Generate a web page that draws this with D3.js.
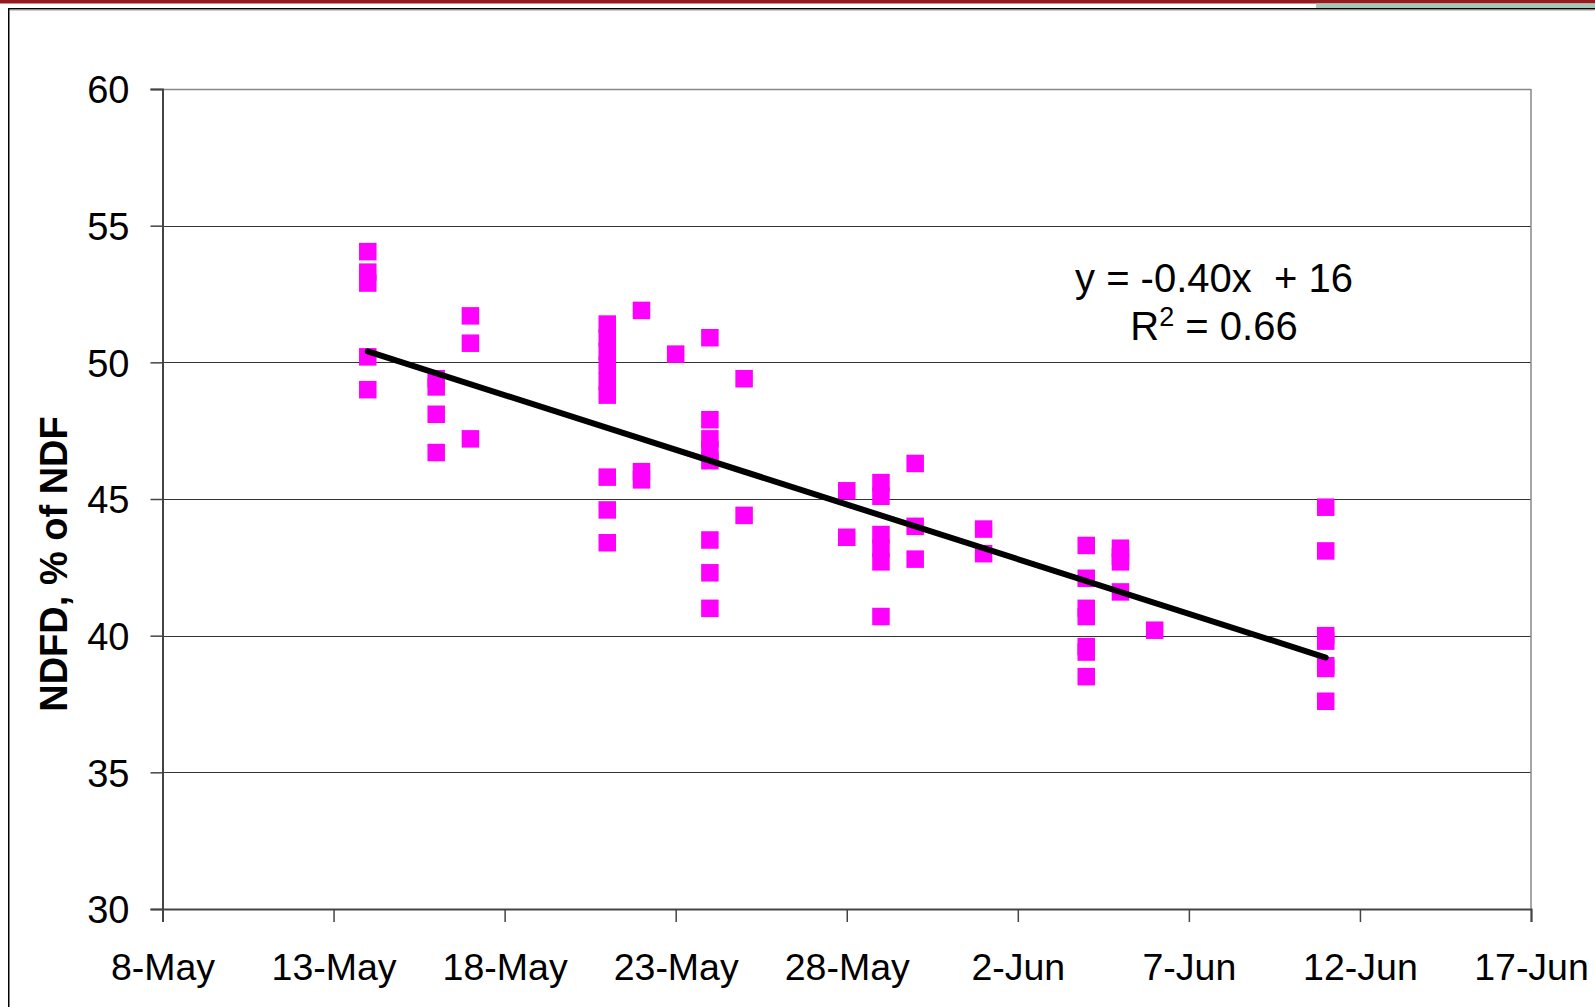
<!DOCTYPE html>
<html>
<head>
<meta charset="utf-8">
<script src="https://cdn.jsdelivr.net/npm/d3@7"></script>
<style>
  html, body { margin: 0; padding: 0; background: #fff; }
  svg { display: block; }
  text { font-family: "Liberation Sans", Arial, sans-serif; }
</style>
</head>
<body>
<svg id="chart" width="1595" height="1007"></svg>
<script>
// ---------- data ----------
const sampleDates = ["2008-05-14","2008-05-16","2008-05-17","2008-05-21","2008-05-22","2008-05-23",
                     "2008-05-24","2008-05-25","2008-05-28","2008-05-29","2008-05-30","2008-06-01",
                     "2008-06-04","2008-06-05","2008-06-06","2008-06-11"];
const ndfdValues = [
  [54.05, 53.3, 52.9, 50.2, 49.0],
  [49.4, 49.1, 48.1, 46.7],
  [51.7, 50.7, 47.2],
  [51.4, 50.9, 50.4, 49.9, 49.3, 48.8, 45.8, 44.6, 43.4],
  [51.9, 46.0, 45.7],
  [50.3],
  [50.9, 47.9, 47.2, 46.8, 46.4, 43.5, 42.3, 41.0],
  [49.4, 44.4],
  [45.3, 43.6],
  [45.6, 45.1, 43.7, 43.2, 42.7, 40.7],
  [46.3, 44.0, 42.8],
  [43.9, 43.0],
  [43.3, 42.1, 41.0, 40.7, 39.6, 39.4, 38.5],
  [43.2, 42.9, 42.7, 41.6],
  [40.2],
  [44.7, 43.1, 40.0, 39.8, 38.9, 38.8, 37.6]
];
const trendDates = ["2008-05-14", "2008-06-11"];
const trendValues = [50.4, 39.2];
const xTickDates = ["2008-05-08","2008-05-13","2008-05-18","2008-05-23","2008-05-28",
                    "2008-06-02","2008-06-07","2008-06-12","2008-06-17"];
const xTickLabels = ["8-May","13-May","18-May","23-May","28-May","2-Jun","7-Jun","12-Jun","17-Jun"];
const yTicks = [30, 35, 40, 45, 50, 55, 60];
const yLabel = "NDFD, % of NDF";
const eqLine1 = "y = -0.40x  + 16";
const eqR2 = "0.66";

// ---------- setup ----------
const parse = d3.timeParse("%Y-%m-%d");
const svg = d3.select("#chart");

const pLeft = 162.5, pRight = 1531, pTop = 89, pBottom = 909;
const x = d3.scaleTime().domain([parse(xTickDates[0]), parse(xTickDates[xTickDates.length-1])]).range([pLeft, pRight]);
const y = d3.scaleLinear().domain([30, 60]).range([pBottom, pTop]);

// ---------- frame decorations ----------
svg.append("rect").attr("x", 0).attr("y", 0).attr("width", 1595).attr("height", 3.5).attr("fill", "#951B1F");
svg.append("rect").attr("x", 1316).attr("y", 3.5).attr("width", 279).attr("height", 4.5).attr("fill", "#A3C8BA");
svg.append("rect").attr("x", 8).attr("y", 8).attr("width", 1587).attr("height", 1.5).attr("fill", "#000");
svg.append("rect").attr("x", 9.5).attr("y", 9.5).attr("width", 1585).attr("height", 1).attr("fill", "#999");
svg.append("rect").attr("x", 8).attr("y", 8).attr("width", 1.5).attr("height", 999).attr("fill", "#000");

// ---------- gridlines & plot border ----------
const g = svg.append("g");
g.selectAll("line.grid").data(yTicks.filter(v => v > 30 && v < 60)).enter()
  .append("line").attr("class", "grid")
  .attr("x1", pLeft).attr("x2", pRight)
  .attr("y1", d => Math.round(y(d)) + 0.5).attr("y2", d => Math.round(y(d)) + 0.5)
  .attr("stroke", "#333").attr("stroke-width", 1);
g.append("line").attr("x1", pLeft).attr("x2", pRight).attr("y1", y(60)+0.5).attr("y2", y(60)+0.5)
  .attr("stroke", "#888").attr("stroke-width", 1.5);
g.append("line").attr("x1", pRight).attr("x2", pRight).attr("y1", y(60)).attr("y2", y(30))
  .attr("stroke", "#888").attr("stroke-width", 1.5);

// ---------- axes ----------
const yAxis = d3.axisLeft(y).tickValues(yTicks).tickSize(12).tickPadding(21).tickFormat(d3.format("d"));
const ya = svg.append("g").attr("transform", `translate(${pLeft},0)`).call(yAxis);
ya.select(".domain").attr("stroke", "#444").attr("stroke-width", 2);
ya.selectAll(".tick line").attr("stroke", "#444").attr("stroke-width", 1.5);
ya.selectAll(".tick text").attr("font-size", 38).attr("fill", "#000").attr("dy", "0.36em")
  .style("font-family", '"Liberation Sans", Arial, sans-serif');

const xAxis = d3.axisBottom(x).tickValues(xTickDates.map(parse)).tickSize(13).tickPadding(31)
  .tickFormat((d, i) => xTickLabels[i]);
const xa = svg.append("g").attr("transform", `translate(0,${pBottom})`).call(xAxis);
xa.select(".domain").attr("stroke", "#444").attr("stroke-width", 2);
xa.selectAll(".tick line").attr("stroke", "#444").attr("stroke-width", 1.5);
xa.selectAll(".tick text").attr("font-size", 37.5).attr("fill", "#000")
  .style("font-family", '"Liberation Sans", Arial, sans-serif');

// ---------- points ----------
const pts = [];
sampleDates.forEach((d, i) => ndfdValues[i].forEach(v => pts.push({date: parse(d), v})));
const s = 17.5;
svg.append("g").selectAll("rect").data(pts).enter().append("rect")
  .attr("x", d => x(d.date) - s/2).attr("y", d => y(d.v) - s/2)
  .attr("width", s).attr("height", s).attr("fill", "#FF00FF");

// ---------- trendline ----------
const trend = trendDates.map((d, i) => ({date: parse(d), v: trendValues[i]}));
svg.append("path").datum(trend)
  .attr("d", d3.line().x(d => x(d.date)).y(d => y(d.v)))
  .attr("fill", "none").attr("stroke", "#000").attr("stroke-width", 6).attr("stroke-linecap", "round");

// ---------- equation ----------
svg.append("text").attr("x", 1214).attr("y", 292).attr("text-anchor", "middle")
  .attr("font-size", 40).attr("fill", "#000").style("white-space", "pre").text(eqLine1);
const r2 = svg.append("text").attr("x", 1214).attr("y", 340).attr("text-anchor", "middle")
  .attr("font-size", 40).attr("fill", "#000");
r2.append("tspan").text("R");
r2.append("tspan").attr("font-size", 27).attr("dy", -14).text("2");
r2.append("tspan").attr("dy", 14).text(" = " + eqR2);

// ---------- y label ----------
svg.append("text").attr("transform", "translate(67,564) rotate(-90)")
  .attr("text-anchor", "middle").attr("font-size", 38).attr("font-weight", "bold")
  .attr("fill", "#000").text(yLabel);
</script>
</body>
</html>
